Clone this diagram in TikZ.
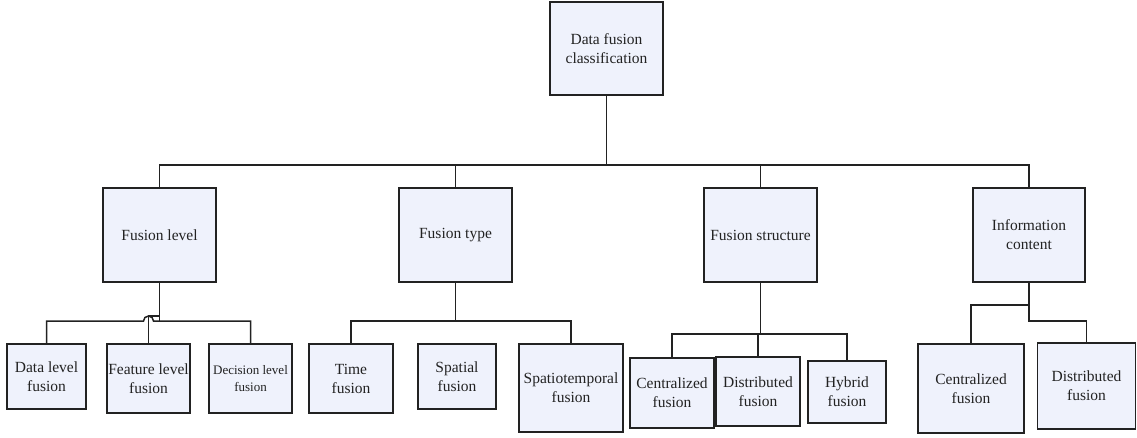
\documentclass[tikz,border=0pt]{standalone}
\usepackage{fontspec}
\setmainfont{Liberation Serif}
\usetikzlibrary{calc}
\definecolor{boxfill}{HTML}{EFF2FC}
\definecolor{ink}{HTML}{222222}
\begin{document}
\begin{tikzpicture}[x=1pt,y=1pt,
  box/.style={draw=ink, fill=boxfill, line width=1.6pt, inner sep=0pt, align=center,
    font=\fontsize{15.5}{19}\selectfont, text=ink},
  sbox/.style={box, font=\fontsize{13}{17}\selectfont},
  wire/.style={draw=ink, line width=1.5pt}]
\useasboundingbox (0,0) rectangle (1137,-437);
% level 0
\node[box, minimum width=113, minimum height=93] (root) at (606.5,-48.5) {Data fusion\\classification};
% level 1
\node[box, minimum width=113, minimum height=94] (fl) at (159.5,-235) {Fusion level};
\node[box, minimum width=113, minimum height=94] (ft) at (455.5,-235) {Fusion type};
\node[box, minimum width=113, minimum height=94] (fs) at (760.5,-235) {Fusion structure};
\node[box, minimum width=112, minimum height=94] (ic) at (1029,-235) {Information\\content};
% level 2
\node[box, minimum width=79, minimum height=65] (dl) at (46.5,-376.5) {Data level\\fusion};
\node[box, minimum width=83, minimum height=69] (fel) at (148.5,-378.5) {Feature level\\fusion};
\node[sbox, minimum width=83, minimum height=69] (del) at (250.5,-378.5) {Decision level\\fusion};
\node[box, minimum width=84, minimum height=69] (tf) at (351,-378.5) {Time\\fusion};
\node[box, minimum width=78, minimum height=65] (sf) at (457,-376.5) {Spatial\\fusion};
\node[box, minimum width=104, minimum height=88] (stf) at (571,-388) {Spatiotemporal\\fusion};
\node[box, minimum width=84, minimum height=70] (cf) at (672,-393) {Centralized\\fusion};
\node[box, minimum width=84, minimum height=69] (df) at (758,-391.5) {Distributed\\fusion};
\node[box, minimum width=78, minimum height=62] (hf) at (847,-392) {Hybrid\\fusion};
\node[box, minimum width=106, minimum height=89] (cf2) at (971,-388.5) {Centralized\\fusion};
\node[box, minimum width=98, minimum height=86] (df2) at (1086.5,-386) {Distributed\\fusion};
% bus coordinates
\coordinate (bus) at (0,-165);
\coordinate (b1) at (0,-321);
\coordinate (b1a) at (0,-316);
\coordinate (b2) at (0,-321);
\coordinate (b3) at (0,-334);
\coordinate (b4a) at (0,-305);
\coordinate (b4b) at (0,-321);
% top connectors
\draw[wire] (root.south) -- (root.south |- bus);
\draw[wire] (fl.north) -- (fl.north |- bus) -- (ic.north |- bus) -- (ic.north);
\draw[wire] (ft.north) -- (ft.north |- bus);
\draw[wire] (fs.north) -- (fs.north |- bus);
% fusion level group
\draw[wire] (fl.south) -- (fl.south |- b1);
\draw[wire] (dl.north) -- (dl.north |- b1) -- ($(fel.north |- b1)+(-5,0)$) arc[start angle=180, end angle=0, radius=5pt] -- (del.north |- b1) -- (del.north);
\draw[wire] (fel.north) -- (fel.north |- b1a) -- (fl.south |- b1a);
% fusion type group
\draw[wire] (ft.south) -- (ft.south |- b2);
\draw[wire] (tf.north) -- (tf.north |- b2) -- (stf.north |- b2) -- (stf.north);
% fusion structure group
\draw[wire] (fs.south) -- (fs.south |- b3);
\draw[wire] (cf.north) -- (cf.north |- b3) -- (hf.north |- b3) -- (hf.north);
\draw[wire] (df.north) -- (df.north |- b3);
% information content group
\draw[wire] (ic.south) -- (ic.south |- b4b) -- (df2.north |- b4b) -- (df2.north);
\draw[wire] (ic.south |- b4a) -- (cf2.north |- b4a) -- (cf2.north);
\end{tikzpicture}
\end{document}
